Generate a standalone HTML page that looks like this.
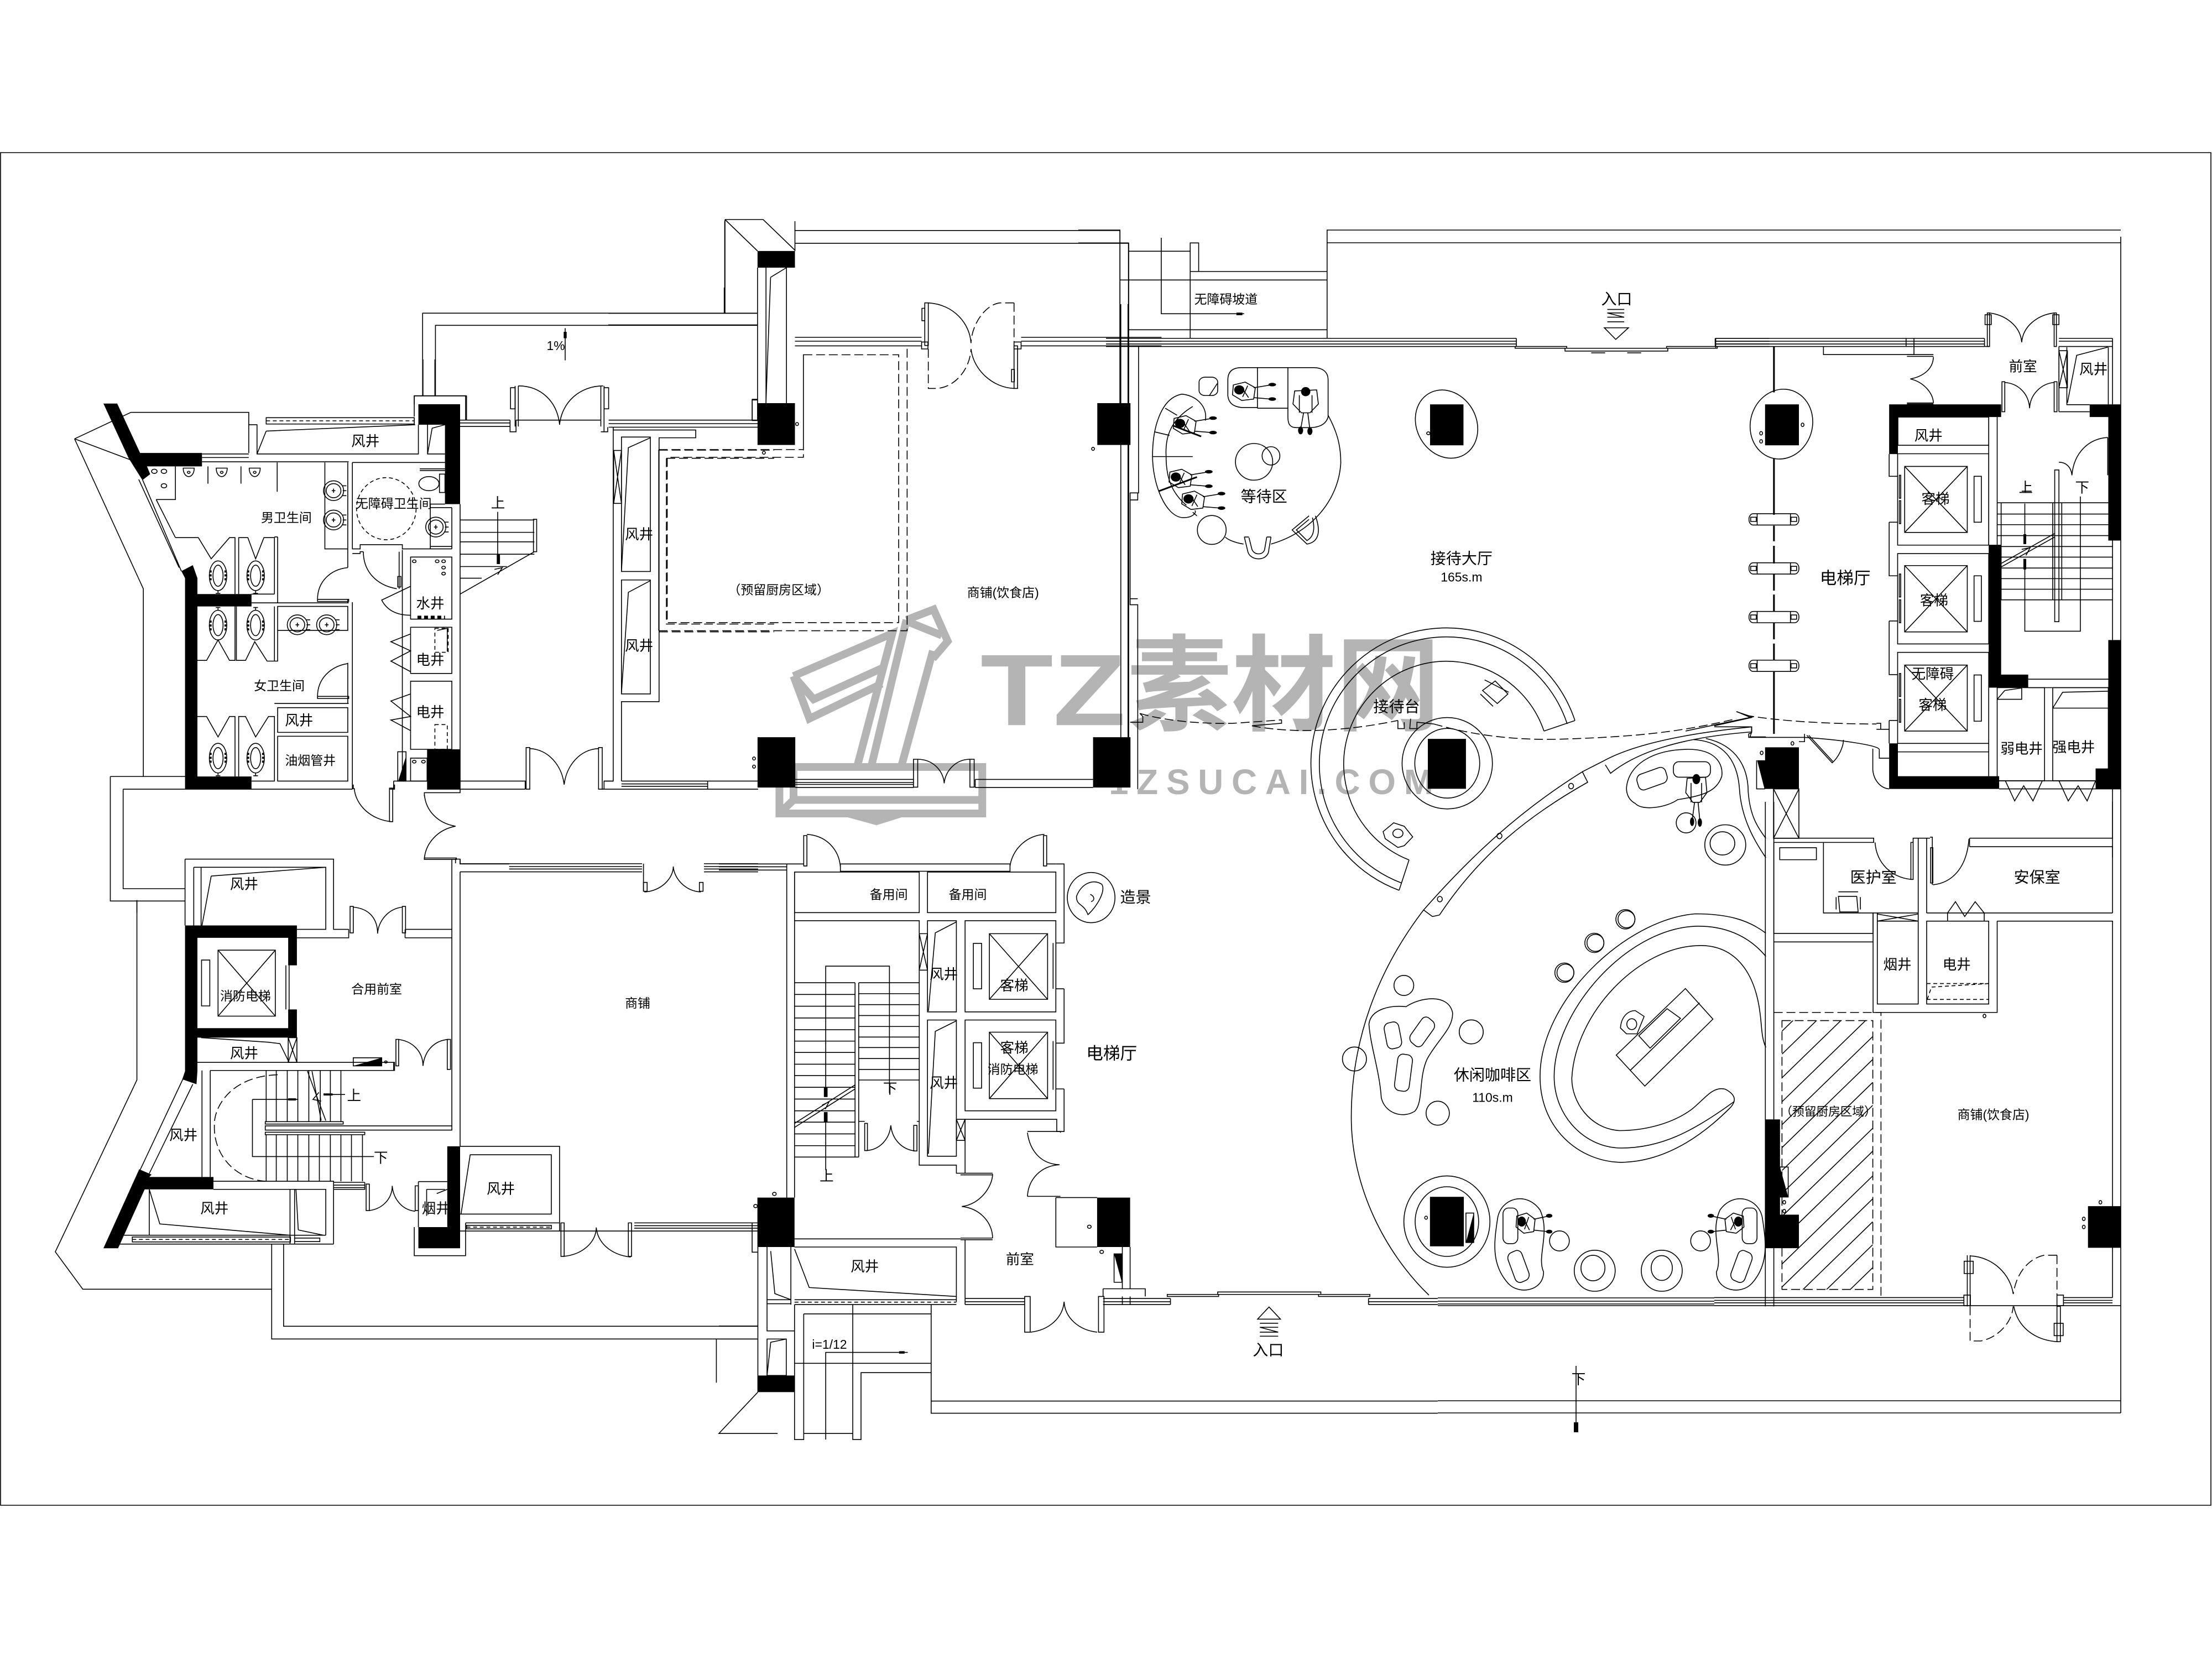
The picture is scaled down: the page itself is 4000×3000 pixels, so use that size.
<!DOCTYPE html>
<html><head><meta charset="utf-8"><style>
html,body{margin:0;padding:0;background:#fff}
svg{display:block}
path,rect,ellipse,circle,line{vector-effect:non-scaling-stroke;fill:none;stroke:#000;stroke-width:1.6}
.f{fill:#000!important;stroke:none!important}
.d{stroke-dasharray:16 7}
.e{stroke-dasharray:7 5}
.w{stroke:#b4b4b4!important;stroke-width:14!important}
text{font-family:"Liberation Sans","Noto Sans CJK SC",sans-serif;fill:#000;text-anchor:middle;dominant-baseline:central}
.wt{fill:#b4b4b4;font-weight:bold;text-anchor:start;dominant-baseline:auto}
</style></head><body>
<svg xmlns="http://www.w3.org/2000/svg" width="4000" height="3000" viewBox="0 0 4000 3000">
<defs>
<g id="sq"><ellipse rx="19" ry="42"/><ellipse rx="11" ry="30"/><path class="f" d="M-19 -15H-14V-9H-19ZM-19 -4H-14V2H-19ZM-19 7H-14V13H-19ZM14 -15H19V-9H14ZM14 -4H19V2H14ZM14 7H19V13H14Z"/><path d="M0 42V50M-5 50H5"/></g>
<g id="ur"><path d="M-12 -12H12C12 5 5 12 0 12C-5 12 -12 5 -12 -12Z"/><circle r="3"/></g>
<g id="bs"><ellipse rx="22" ry="28"/><ellipse rx="16" ry="20"/><path d="M0 -6V6M-4 0H4M20 -14H28M20 0H28M20 14H28"/></g>
<g id="pill"><rect x="123" y="-16" width="177" height="32" rx="15"/><rect x="129" y="-6" width="20" height="12"/><rect x="272" y="-6" width="20" height="12"/><path d="M152 -16V16M270 -16V16"/></g>
<g id="p"><ellipse class="f" rx="12" ry="13"/><path d="M-14 -14L14 -22L38 -6L34 26L6 30L-16 14Z M4 -10L22 22M20 -12L8 20M34 -6L75 -14M34 22L75 26M75 -14"/><ellipse class="f" cx="78" cy="-15" rx="9" ry="5"/><ellipse class="f" cx="78" cy="26" rx="9" ry="5"/></g>
<g id="p2"><ellipse class="f" rx="11" ry="13"/><path d="M-26 -2L26 -5L30 35L10 60L-10 60L-30 35Z M-15 10V60M15 10V60M-5 60L-12 108M5 60L10 108"/><ellipse class="f" cx="-12" cy="110" rx="6" ry="11"/><ellipse class="f" cx="10" cy="112" rx="6" ry="11"/></g>
<clipPath id="hc"><rect x="240" y="620" width="322" height="762"/></clipPath>
</defs>

<rect x="0" y="0" width="4000" height="3000" class="f" style="fill:#fff!important"/>

<!-- watermark -->
<g transform="translate(1100,400) scale(.638,.7)">
<path class="w" d="M525 1175L805 1065L705 1410M845 1030L745 1410M920 1110L830 1410M845 1030L922 1003L962 1085L920 1130M850 1035L945 1070M525 1175L570 1285L775 1195M525 1175L582 1235L775 1155M485 1410H1060V1530H485ZM525 1410V1495M525 1495H1060M485 1530L525 1495M680 1530L760 1550L830 1530"/>
</g>
<text class="wt" transform="scale(2.551)" x="695" y="514" font-size="72" textLength="103" lengthAdjust="spacingAndGlyphs">TZ</text>
<text class="wt" transform="scale(2.551)" x="799" y="512" font-size="74" style='font-family:"Noto Sans CJK SC",sans-serif'>素材网</text>
<text class="wt" transform="scale(2.551)" x="786" y="563" font-size="25" textLength="230">1ZSUCAI.COM</text>

<!-- frame -->
<rect x="1" y="276" width="3997" height="2446"/>

<!-- real-coordinate lines -->
<path d="M1311 397V567M1311 397H1380L1437 452M1311 397L1370 454"/>
<path d="M3835 428V2555M2399 416H3835M2399 439H3835"/>
<path d="M2600 2533H3835M2600 2555H3835M2600 2347H3100M2600 2353H3100M2600 2358H3100M2600 2361H3100"/>
<path d="M2850 2470V2590"/><path class="f" d="M2846 2572H2854V2590H2846Z"/>

<!-- reception arcs -->
<path d="M2848 1303A245 245 0 1 0 2530 1610M2834 1309A230 230 0 1 0 2535 1597M2792 1322A186 186 0 1 0 2548 1555M2848 1303L2792 1322M2530 1610L2548 1555"/>

<!-- Z11 ramp -->
<g transform="translate(1950,380) scale(.638,.3333)">
<path d="M0 108H118V693M0 178H142V693M142 223H317M317 178H341V333H317ZM317 333H705M119 379H705M705 108V693M142 649H705M317 178V693M235 150V562H470"/>
<path class="f" d="M448 556H465V570H448Z"/>
</g>

<!-- Z12 slope -->
<g transform="translate(700,520) scale(.446,.3333)">
<path d="M144 588V139H1502M196 588V205H1502M1367 0V139M110 700V588H322V720M722 220V395"/>
<path class="f" d="M716 240H728V275H716Z"/>
</g>

<!-- Z1 toilets -->
<g transform="translate(100,650) scale(.829,.638)">
<path class="f" d="M105 125H135L185 265H320V303H200L207 325L190 342L160 280Z"/>
<path class="f" d="M792 127H883V410H850V185H792Z"/>
<path class="f" d="M275 600L300 583L310 620V665H428V700H310V1182H428V1218H283V620Z"/>
<path class="f" d="M811 1105H883V1218H811Z"/>
<path d="M42 225L165 150H422V265M42 225L165 285M42 225L192 650V1182"/>
<path d="M422 185H440V268H792V185M460 203L785 185M460 203L440 268"/>
<rect x="460" y="165" width="323" height="18"/><path class="e" d="M460 174H783"/>
<path d="M812 185V268H850M812 268L822 195L850 185"/>
<path d="M783 127V103H895V172M802 0V103M828 0V103"/>
<path d="M883 172H992M883 180H992M883 190H992M992 172V205H1005V172"/>
<path d="M1003 75V190M1010 75V190M1010 75C1060 75 1095 120 1100 185M1195 75C1145 75 1105 120 1100 185M1190 75V190M1197 75V205M1005 172H1190"/>
<rect x="993" y="80" width="10" height="60"/><rect x="1197" y="80" width="10" height="60"/>
<path d="M1207 172H1533M1207 182H1533M1207 192H1533M1190 205H1205V192M1520 172V115H1533"/>
<path d="M883 455H1045M883 490H1045M883 517H1045M883 552H1045M883 587H985M883 620H930M883 665L1045 545M965 432V552M958 595L975 590L965 610"/>
<rect x="1043" y="453" width="7" height="92"/><path class="f" d="M963 552H970V580H963Z"/>
<path d="M883 1195H1025V1218M883 1218H1025M1035 1103C1075 1105 1105 1150 1110 1205M1185 1103C1145 1105 1115 1150 1110 1205M1192 1218H1533M1197 1195H1217M1235 1195H1533M1235 1203H1423M1235 1210H1423M1423 1195V1218"/>
<rect x="1027" y="1100" width="8" height="118"/><rect x="1185" y="1100" width="8" height="118"/>
<path d="M1217 192V1195H1197V1218M1235 1195V970H1317V222H1397V200H1217"/>
<rect x="1235" y="220" width="63" height="381"/><path d="M1235 600L1250 250L1298 222"/>
<rect x="1218" y="258" width="17" height="150"/><path d="M1218 258L1235 408M1235 258L1218 408"/>
<rect x="1235" y="625" width="63" height="323"/><path d="M1235 945L1250 660L1298 627"/>
<path class="d" d="M1317 257H1568M1333 280H1568M1333 280V750H1568M1317 772H1568"/>
<!-- toilet block -->
<path d="M320 268H422M320 278H422M320 290H640M648 292H850M588 292V537H638V292"/>
<use href="#bs" transform="translate(607,372)"/><use href="#bs" transform="translate(607,455)"/><use href="#bs" transform="translate(830,475)"/>
<use href="#bs" transform="translate(528,752)"/><use href="#bs" transform="translate(592,752)"/>
<use href="#ur" transform="translate(291,320)"/><use href="#ur" transform="translate(363,320)"/><use href="#ur" transform="translate(435,320)"/>
<circle cx="216" cy="317" r="6"/><circle cx="237" cy="317" r="6"/><circle cx="237" cy="358" r="6"/>
<path d="M333 303V352M405 303V352M484 292V375M190 340L275 600M182 340L270 590M220 397H262V303M220 397L262 505"/>
<path d="M262 505H312L340 565L380 505H392V665M400 665V505H420L437 565L455 505H478V665M485 503V690H428M478 503H485M428 665H478M428 690H640"/>
<path d="M485 700H638V768H485ZM485 700V855H462L435 800L415 853H395V700M392 700V853H380L355 795L330 853H310M478 700V855"/>
<path d="M310 1012H330L355 1070L380 1012H392V1182M400 1182V1012H415L437 1070L465 1012H478V1195H428M478 975H640"/>
<rect x="485" y="987" width="153" height="70"/><rect x="485" y="1068" width="153" height="127"/>
<use href="#sq" transform="translate(355,613)"/><use href="#sq" transform="translate(437,613)"/>
<use href="#sq" transform="translate(355,753) scale(1,-1)"/><use href="#sq" transform="translate(437,753) scale(1,-1)"/>
<use href="#sq" transform="translate(355,1130)"/><use href="#sq" transform="translate(437,1130)"/>
<path d="M648 292V537H665V525H757V537H865M638 537V590M638 590C600 595 572 630 572 680M638 680V690M648 550H665V545H672M672 545C672 600 700 640 745 650M750 545V650"/>
<rect x="572" y="680" width="68" height="6"/><rect x="747" y="615" width="7" height="30"/>
<ellipse class="e" cx="722" cy="423" rx="65" ry="88"/>
<ellipse cx="815" cy="352" rx="22" ry="20"/><rect x="838" y="325" width="12" height="52"/><path d="M795 310H850M795 315H850M818 410V537M818 420H865M818 530H865M865 420V537M883 410V1218M850 410H818"/>
<rect x="775" y="560" width="90" height="176"/>
<circle cx="783" cy="572" r="4"/><circle cx="833" cy="572" r="4"/><circle cx="847" cy="572" r="4"/><circle cx="847" cy="590" r="4"/><circle cx="847" cy="607" r="4"/>
<path d="M790 731H850" class="e" style="stroke-width:6"/>
<path d="M775 643L712 682C725 715 750 725 775 725M757 540V1195"/>
<rect x="775" y="759" width="90" height="131"/><rect class="e" x="828" y="762" width="29" height="68"/><path d="M833 768L855 762V828M775 778L732 800L775 826L732 855L775 885"/>
<rect x="775" y="912" width="90" height="193"/><rect class="e" x="828" y="1035" width="27" height="70"/><path d="M775 948L732 968L775 1012L732 1022L775 1052"/>
<rect x="775" y="1130" width="36" height="65"/><circle cx="783" cy="1140" r="4"/><circle cx="803" cy="1140" r="4"/>
<rect x="747" y="1112" width="18" height="83"/><path class="f" d="M765 1125L748 1195H765Z"/>
<path d="M738 1195H811M738 1195V1218M730 1218H740V1205M883 1218H811M652 1215C655 1265 690 1305 733 1310M648 1218H283M650 1205V1218"/>
<rect x="729" y="1215" width="7" height="95"/>
<path d="M648 688V1218M638 860V975M638 862C600 870 572 905 572 955"/><rect x="572" y="955" width="68" height="6"/>
<path d="M120 1182H283M120 1182V1535H283M148 1218H283M148 1218V1500H283M178 1535V1568"/>
<path d="M883 1218V1228H805V1238M805 1232C808 1280 835 1315 873 1323C835 1332 808 1370 805 1415M873 1415V1428M883 1418V1430H990"/>
<rect x="805" y="1413" width="70" height="4"/>
</g>

<!-- Z2 lower-left -->
<g transform="translate(100,1500) scale(.829,.638)">
<path class="f" d="M283 272H527V385H508V307H310V563H508V510H527V590H310V685L308 722L277 708L283 685Z"/>
<path class="f" d="M183 963L210 978L205 985H345V1020H195L137 1187H105Z"/>
<path class="f" d="M855 898H883V1187H792V1127H855Z"/>
<path d="M178 200V710L0 1197L60 1303H472M472 1175V1444H1533M498 1175V1408H1533M1442 1444V1568"/>
<path d="M283 84H607V283H640M283 84V272M302 107H590V283H527M302 107V272M318 107V272M340 132L590 107M340 132L320 272"/>
<path d="M527 307H640V283M650 220C690 225 703 260 703 295C705 260 725 225 757 220M763 283H865M763 307H865M763 283V307"/>
<rect x="643" y="218" width="7" height="75"/><rect x="757" y="218" width="7" height="75"/>
<path d="M865 84V840M883 120V898M873 84H883V97H990M883 120H1280M990 97H1280M990 105H1280M990 112H1280M1283 97V175M1285 177C1320 175 1348 140 1348 105C1350 140 1375 175 1408 177M1415 97H1533M1415 105H1533M1415 112H1533M1415 120H1533"/>
<rect x="1283" y="150" width="8" height="25"/><rect x="1405" y="150" width="8" height="25"/>
<rect x="355" y="342" width="125" height="187"/><path d="M355 342L480 529M480 342L355 529"/><rect x="319" y="370" width="18" height="130"/>
<path d="M503 385V510M510 385V510M318 590L465 603L490 607L510 660"/>
<rect x="508" y="590" width="19" height="70"/><path d="M508 590L527 660M527 590L508 660"/>
<path d="M310 660H740V683H338M650 647H712V670H650Z"/><path class="f" d="M712 647V670H650Z"/><circle cx="721" cy="659" r="3"/>
<rect x="743" y="595" width="6" height="75"/><path d="M748 595C780 600 802 630 802 670C805 630 825 598 858 595"/><rect x="855" y="595" width="7" height="85"/>
<path d="M738 683V660M338 683V985M320 683V985"/>
<path d="M460 683V828M482 683V828M506 683V828M529 683V828M553 683V828M578 683V828M600 683V828M623 683V828"/>
<path d="M460 865V997M482 865V997M506 865V997M529 865V997M553 865V997M576 865V997M600 865V997M623 865V997M646 865V997M670 865V997"/>
<rect x="458" y="828" width="170" height="7"/><rect x="458" y="840" width="407" height="12"/><rect x="458" y="858" width="217" height="7"/>
<path d="M550 685L590 825M560 685L580 825M575 745L562 765L580 770M632 751H585M430 765H530M430 765V927H695"/>
<path class="f" d="M585 748H605V754H585ZM508 762H525V768H508Z"/>
<path class="d" d="M485 695C380 700 345 790 347 840C345 920 390 990 458 997"/>
<path d="M345 997H607V1175M345 1020H590V1150M512 1020V1175M522 1020V1175M530 1135L525 1020M530 1135L585 1150M205 1020V1150M205 1020L228 1118L512 1150M140 1150H590M140 1175H607"/>
<rect x="168" y="1155" width="345" height="14"/><path class="e" d="M168 1162H513"/><rect x="522" y="1158" width="55" height="10"/>
<path d="M607 1000H675M607 1008H675M607 1015H675M607 1020H675V1000"/>
<rect x="678" y="1005" width="7" height="75"/><path d="M685 1080C715 1075 735 1045 735 1010C737 1045 755 1078 785 1082"/><rect x="785" y="1010" width="7" height="70"/>
<path d="M792 998H855M792 998V1127M810 1020V1095M810 1020H850M832 1032L855 1020"/>
<path d="M783 1127V1208H895V1115M895 1115H1100M883 1090H1082V922H905L885 1090M883 898H1100V1138M883 1138H1533"/>
<rect x="897" y="1122" width="185" height="10"/><path class="e" d="M897 1127H1082"/>
<rect x="1103" y="1115" width="7" height="95"/><path d="M1108 1210C1150 1205 1180 1170 1180 1128C1183 1170 1210 1205 1255 1212"/><rect x="1250" y="1115" width="7" height="95"/>
<path d="M1263 1115H1533M1263 1123H1533M1263 1130H1533M1520 1115V1198H1533"/>
<path d="M281 700L185 965M300 722L205 975"/>
</g>

<!-- Z3 centre-lower -->
<g transform="translate(1300,1500) scale(.829,.733)">
<path class="f" d="M84 908H165V1030H84ZM825 908H897V1030H825ZM84 1347H165V1388H84Z"/>
<path d="M0 85H148M0 92H148M0 100H148M148 85V908M165 105V908"/>
<rect x="165" y="105" width="272" height="100"/><rect x="455" y="105" width="280" height="100"/>
<path d="M165 225H437V828H518V848H527M455 225H518V450H455ZM457 448L472 255L518 228"/>
<rect x="455" y="470" width="63" height="336"/><path d="M457 800L472 498L518 472"/>
<rect x="437" y="257" width="18" height="90"/><path d="M437 257L455 347M455 257L437 347"/>
<rect x="537" y="225" width="198" height="225"/><rect x="537" y="470" width="198" height="224"/>
<rect x="590" y="257" width="127" height="162"/><path d="M590 257L717 419M717 257L590 419"/><rect x="555" y="281" width="18" height="112"/>
<rect x="590" y="500" width="127" height="164"/><path d="M590 500L717 664M717 500L590 664"/><rect x="555" y="526" width="18" height="112"/>
<path d="M735 85H753V280H735M753 393H735M753 393V527H735M753 640V745H737V715H537V770M753 640H735M729 280V393M735 280V393M729 522V642M735 522V642"/>
<rect x="518" y="715" width="19" height="52"/><path d="M518 715L537 767M537 715L518 767"/>
<path d="M537 767V848M148 85H185"/>
<rect x="185" y="15" width="7" height="75"/><path d="M192 12C235 15 262 50 265 92M710 12C670 15 640 50 635 90"/>
<rect x="265" y="85" width="370" height="18"/><rect x="708" y="15" width="7" height="75"/><path d="M715 85H735"/>
<path d="M165 378H297M165 407H297M165 436H297M165 465H297M165 494H297M165 522H297M165 550H297M165 579H297M165 607H297M165 636H297M165 665H297M165 694H297M165 722H297M165 751H297M165 780H297M165 808H305"/>
<path d="M305 378H437M305 405H437M305 432H437M305 459H437M305 486H437M305 512H437M305 538H437M305 565H437M305 592H437M305 618H437"/>
<path d="M297 378V808M305 378V808M233 650V337H372V650M233 700V840M165 725L297 630M165 735L297 640M225 680L240 672L232 690"/>
<path class="f" d="M229 635H237V660H229ZM229 697H237V722H229Z"/>
<rect x="318" y="725" width="6" height="67"/><path d="M322 792C350 790 372 765 375 730C378 765 400 790 428 793"/><rect x="425" y="730" width="7" height="63"/>
<path d="M305 720H318M432 720H437"/>
<path d="M527 848H597M527 852H597M597 850C597 880 570 925 530 930C570 935 597 970 597 1008M527 1008H597M527 1012H597M165 1010H527M165 1030H518V1165M537 1012V1172M165 1035L197 1130L518 1152M165 1160H518M165 1172H518"/>
<path class="e" d="M165 1166H518"/>
<path d="M85 1030V1347M105 1030V1172M113 1040L122 1145L157 1160M157 1030V1172M105 1160H157M105 1170H157"/>
<path d="M673 745H745V748M673 748C678 790 700 825 743 827C700 830 675 865 673 905M673 905H745M735 908V1030H825M735 908H825"/>
<circle cx="808" cy="980" r="4"/><circle cx="835" cy="1042" r="4"/><circle cx="121" cy="899" r="4"/><circle cx="80" cy="929" r="4"/>
<rect x="862" y="1047" width="17" height="70"/><path class="f" d="M862 1047H879V1117Z"/>
<path d="M880 1030V1133M897 1030V1133M838 1133H930V1152M838 1133V1152"/>
<path d="M537 1157H667M537 1165H667M537 1172H667M680 1240C720 1235 750 1205 753 1165C755 1205 785 1235 825 1240M838 1157H985M838 1165H985M838 1172H985M985 1157V1172M880 1152V1172M897 1152V1172"/>
<rect x="667" y="1152" width="12" height="88"/><rect x="828" y="1152" width="12" height="88"/>
<rect x="978" y="1147" width="112" height="5"/><rect x="1088" y="1141" width="225" height="6"/><rect x="1308" y="1147" width="112" height="5"/>
<path d="M1417 1157H1568M1417 1165H1568M1417 1172H1568M1417 1157V1172"/>
<path d="M1200 1178L1175 1208H1225ZM1180 1218H1220M1180 1228H1220M1180 1240H1220M1180 1250H1220M1180 1228L1220 1240"/>
<path d="M185 1195H463V1440H1568M463 1172V1440M463 1410H1568M185 1195V1505H165V1172M292 1172V1505H310V1340H463M165 1317H463M185 1490H292M233 1505V1290H412"/>
<path class="f" d="M393 1287H405V1293H393Z"/>
<path d="M105 1172V1237H165"/>
<rect x="105" y="1257" width="42" height="90"/><path d="M105 1347L113 1265L147 1257"/>
<path d="M85 1388L0 1490H128M0 1225H85M0 1257H85"/>
<ellipse cx="812" cy="168" rx="52" ry="62"/>
<path d="M780 165C790 135 815 120 835 135C845 150 825 190 805 210C795 180 780 190 780 165ZM810 160C820 165 820 175 812 178"/>
</g>

<!-- Z7 shop -->
<g transform="translate(1100,400) scale(.638,.7)">
<path class="f" d="M423 77H529V120H423ZM423 470H529V578H423ZM423 1333H530V1463H423ZM1386 470H1480V578H1386ZM1374 1333H1480V1463H1374Z"/>
<path d="M0 238H423M0 268H423M330 0V238M529 0V77M529 24H1450V470M529 57H1475V1333"/>
<path d="M423 120V470M447 120V470M505 120V470M460 145L505 120M460 145L447 465M408 460H423V515H408Z"/>
<path d="M529 300H888M529 310H888M529 322H888M907 211C980 215 1025 265 1028 315M1028 330C1035 385 1090 430 1150 432M1170 300H1568M1170 310H1568M1170 322H1568"/>
<path class="d" d="M1150 211H1110C1070 215 1030 265 1028 315M1150 211V312M907 330V432H930C980 430 1025 385 1028 330"/>
<rect x="897" y="211" width="10" height="110"/><rect x="1150" y="322" width="10" height="110"/>
<rect x="889" y="225" width="8" height="32"/><rect x="1143" y="383" width="8" height="32"/>
<rect x="888" y="312" width="18" height="18"/><rect x="1150" y="312" width="20" height="18"/>
<path class="d" d="M553 345H823V1037H167V610H553ZM143 590H553V345M143 1058H847V322"/>
<path d="M143 590V1058M530 1442H865M530 1450H865M530 1455H865M530 1463H865M877 1390C920 1390 950 1420 952 1452C955 1420 985 1390 1025 1390M1040 1442H1374M1040 1463H1374M1040 1442V1463"/>
<rect x="865" y="1390" width="12" height="72"/><rect x="1025" y="1390" width="12" height="72"/>
<circle cx="535" cy="524" r="4"/><circle cx="441" cy="598" r="4"/><circle cx="413" cy="1388" r="4"/><circle cx="413" cy="1409" r="4"/><circle cx="1374" cy="588" r="4"/>
</g>

<!-- Z4 lobby -->
<g transform="translate(2000,550) scale(.765,.638)">
<path class="f" d="M766 284H845V400H766Z"/>
<path d="M0 97H970M0 105H970M0 113H970M0 120H970M970 97V120M35 0V1232M52 0V1232"/>
<rect x="967" y="120" width="122" height="5"/><rect x="1085" y="125" width="243" height="8"/><rect x="1325" y="120" width="120" height="5"/>
<path d="M1440 97H1568M1440 105H1568M1440 113H1568M1440 120H1568M1440 97V120"/>
<path d="M1178 67H1235L1205 100ZM1185 15H1225M1185 25H1225M1185 37H1225M1185 50H1225M1185 25L1225 37M1147 138H1180M1232 138H1265"/>
<path d="M77 120V535H57V555H75V535M57 555V835M75 835H57V852H75V1185H57M75 855V1375M57 1185H87V1170"/>
<path d="M525 315C550 370 555 410 555 450C550 560 480 650 390 680M325 680C300 675 285 665 282 660M215 600L205 590M263 225L245 258"/>
<path d="M288 215C288 190 300 180 320 180H490C515 180 525 195 525 215V320C520 340 505 350 480 350H450C435 350 430 340 430 320V295H358M288 215V260C290 280 300 290 320 293H358M358 180V295M430 180V295"/>
<rect x="220" y="207" width="44" height="52" rx="14"/>
<path d="M180 255C215 260 240 290 235 330M180 255C130 265 110 350 110 430C110 510 140 600 180 605C205 607 215 590 210 585M205 290C150 330 140 380 142 430C142 480 150 530 190 570M140 295L168 315M115 362L150 372M110 432H205"/>
<path d="M125 530L215 490" style="stroke-width:3"/>
<path d="M160 345L225 375" style="stroke-width:3"/>
<ellipse cx="350" cy="447" rx="44" ry="52"/><ellipse cx="390" cy="430" rx="21" ry="26"/><ellipse cx="250" cy="640" rx="34" ry="41"/>
<path d="M327 660L335 700C340 730 385 730 385 695L390 660M338 662L345 695C350 712 372 712 375 695L380 660M327 660H338M380 660H390"/>
<path d="M480 600L440 640L475 680C500 675 510 650 495 600M480 610L450 640L475 670C490 660 495 640 488 605"/>
<use href="#p" transform="translate(315,243)"/><use href="#p" transform="translate(175,338)"/><use href="#p" transform="translate(165,490)"/><use href="#p" transform="translate(195,552)"/>
<use href="#p2" transform="translate(472,248)"/>
<ellipse cx="805" cy="340" rx="72" ry="98" transform="rotate(-14 805 340)"/><circle cx="762" cy="366" r="4"/>
<path d="M890 1095L920 1068L950 1105L925 1132ZM885 1105L915 1140M895 1065L952 1100"/>
<path class="d" d="M80 1160C150 1185 250 1190 300 1188C340 1185 400 1180 415 1178M345 1195C430 1215 550 1215 690 1180M775 1190C850 1215 950 1240 1100 1232C1250 1225 1350 1215 1490 1175"/>
<path d="M80 1160L88 1170M415 1178V1188L345 1195M690 1180L690 1203H705V1185M720 1175L718 1203H735V1185L775 1190M1490 1155L1528 1170L1370 1210"/>
<path d="M655 1495L680 1470L705 1480L725 1510L705 1535L690 1540L660 1515Z"/><ellipse cx="690" cy="1500" rx="12" ry="12"/>
</g>

<!-- Z5 cafe -->
<g transform="translate(2300,1250) scale(.638,.7)">
<path class="f" d="M442 123H550V252H442ZM448 1306H544V1434H448Z"/>
<ellipse cx="497" cy="186" rx="128" ry="118"/><ellipse cx="497" cy="186" rx="92" ry="90"/>
<path d="M940 180C1020 140 1160 110 1360 92V105C1150 120 1030 160 960 212L945 190M1360 105L1355 118H1400M880 208L940 180"/>
<path d="M880 208C700 310 560 430 430 565L455 582L475 578C590 420 730 320 895 235L880 208ZM430 565C300 720 225 900 225 1100C225 1280 320 1450 445 1560"/>
<circle cx="848" cy="245" r="7"/><circle cx="645" cy="374" r="7"/><circle cx="476" cy="537" r="7"/>
<path d="M1195 125C1290 130 1320 190 1325 250C1330 330 1370 390 1400 430M1230 122C1320 140 1350 200 1350 260C1355 320 1375 350 1400 380"/>
<path d="M1400 625C1350 590 1290 575 1200 575C1000 590 760 800 760 995C760 1130 870 1215 990 1217C1130 1215 1240 1130 1300 1075C1320 1055 1310 1040 1285 1028C1250 1020 1230 1050 1190 1080C1130 1120 1050 1135 985 1135C900 1130 850 1060 850 1000C860 830 1040 660 1210 657C1300 655 1360 710 1380 810C1390 860 1385 890 1400 920"/>
<path d="M1400 685C1350 630 1280 605 1200 607C1000 615 800 830 800 995C800 1100 890 1180 990 1180C1100 1180 1190 1140 1310 1060"/>
<path d="M976 940L1172 768L1250 847L1057 1020ZM1015 980L1212 805M1040 890L1120 820L1158 845L1072 922Z"/>
<path d="M988 870C990 840 1010 825 1030 825L1055 840L1035 885L1005 885Z"/><ellipse cx="1020" cy="860" rx="14" ry="14"/>
<ellipse cx="829" cy="727" rx="27" ry="25"/><ellipse cx="914" cy="650" rx="27" ry="25"/><ellipse cx="1002" cy="589" rx="27" ry="25"/>
<ellipse cx="832" cy="727" rx="24" ry="22"/><ellipse cx="917" cy="650" rx="24" ry="22"/><ellipse cx="1005" cy="589" rx="24" ry="22"/>
<path d="M275 860C280 820 340 810 380 815C420 790 500 780 512 830C515 870 470 900 440 950C415 1000 430 1060 405 1085C370 1105 320 1090 310 1050C305 980 280 920 275 860Z"/>
<rect x="322" y="855" width="42" height="68" rx="15" transform="rotate(-12 343 889)"/>
<rect x="405" y="840" width="42" height="80" rx="15" transform="rotate(38 426 880)"/>
<rect x="352" y="938" width="42" height="95" rx="15" transform="rotate(8 373 985)"/>
<ellipse cx="374" cy="760" rx="28" ry="26"/><ellipse cx="565" cy="880" rx="34" ry="31"/><ellipse cx="470" cy="1090" rx="33" ry="31"/><ellipse cx="234" cy="950" rx="34" ry="31"/>
<ellipse cx="496" cy="1370" rx="122" ry="118"/><ellipse cx="496" cy="1370" rx="90" ry="90"/><circle cx="437" cy="1360" r="4"/>
<rect x="550" y="1348" width="22" height="76"/><path class="f" d="M572 1348V1424H550Z"/>
<g id="set"><path d="M640 1360C650 1310 720 1290 760 1340C790 1400 750 1460 770 1500C770 1550 700 1560 670 1530C620 1480 630 1420 640 1360Z"/>
<rect x="655" y="1335" width="42" height="92" rx="15"/>
<rect x="678" y="1445" width="42" height="82" rx="15" transform="rotate(-22 699 1486)"/>
<use href="#p" transform="translate(708,1370)"/>
<ellipse cx="815" cy="1420" rx="28" ry="26"/></g>
<use href="#set" transform="translate(2030,0) scale(-1,1)"/>
<ellipse cx="915" cy="1497" rx="58" ry="53"/><ellipse cx="910" cy="1490" rx="34" ry="33"/>
<ellipse cx="1105" cy="1497" rx="58" ry="53"/><ellipse cx="1105" cy="1490" rx="30" ry="32"/>
<path d="M1005 250C1010 190 1080 150 1180 150C1260 150 1280 190 1275 220C1260 260 1220 270 1150 280C1120 300 1050 310 1030 290C1010 280 1005 265 1005 250Z"/>
<rect x="1035" y="205" width="85" height="42" rx="15" transform="rotate(-18 1077 226)"/>
<rect x="1138" y="182" width="105" height="40" rx="15"/>
<use href="#p2" transform="translate(1203,227)"/>
<ellipse cx="1174" cy="340" rx="28" ry="26"/><ellipse cx="1285" cy="397" rx="58" ry="52"/><ellipse cx="1277" cy="393" rx="35" ry="30"/>
</g>

<!-- Z6 elevator hall -->
<g transform="translate(3100,550) scale(.51,.638)">
<path class="f" d="M620 284H1017V320H651V425H620ZM1331 284H1442V670H1397V320H1331ZM973 682H1017V1050H1113V1087H973ZM1397 952H1442V1374H1352V1316H1397ZM620 1245H651V1338H1010V1374H620ZM180 284H300V400H180ZM180 1256H300V1374H178L152 1293H180Z"/>
<path d="M5 97H958M5 105H958M5 113H958M5 120H958M5 97V125M680 97V120M708 97V143H387V120M958 97V120H975M975 25C1030 30 1085 60 1090 108M1205 25C1150 30 1095 60 1090 108"/>
<rect x="968" y="25" width="8" height="95"/><rect x="960" y="30" width="22" height="28"/><rect x="1205" y="25" width="8" height="95"/><rect x="1200" y="30" width="22" height="28"/>
<path d="M1222 97H1412M1222 105H1412M1222 120H1412M1412 97V284"/>
<rect x="1020" y="220" width="10" height="85"/><path d="M1030 222C1080 225 1115 255 1118 295C1120 255 1160 225 1205 222"/><rect x="1205" y="220" width="10" height="85"/>
<path d="M1222 305H1331M1222 120V305M1250 122V285H1331M1252 280L1285 145L1395 122M1397 122V284"/>
<rect x="1222" y="132" width="30" height="105"/><path d="M1222 132L1252 237M1252 132L1222 237"/>
<path d="M683 148H777M683 143H777M777 150C775 185 740 205 695 212C740 220 775 250 777 280M683 280H777M683 283H777"/>
<path d="M210 120V250M213 120V250M210 438V597M213 438V597M210 628V672M213 628V672M210 685V735M213 685V735M210 765V812M213 765V812M210 823V872M213 823V872M210 903V950M213 903V950M210 962V1010M213 962V1010M210 1042V1218M213 1042V1218"/>
<ellipse cx="238" cy="340" rx="112" ry="98" transform="rotate(-15 238 340)"/>
<circle cx="166" cy="366" r="5"/><circle cx="166" cy="389" r="5"/><circle cx="313" cy="342" r="5"/>
<use href="#pill" transform="translate(0,610)"/><use href="#pill" transform="translate(0,749)"/><use href="#pill" transform="translate(0,887)"/><use href="#pill" transform="translate(0,1025)"/>
<rect x="650" y="424" width="323" height="259"/><rect x="650" y="707" width="323" height="256"/><rect x="650" y="987" width="323" height="258"/>
<rect x="675" y="460" width="222" height="187"/><path d="M675 460L897 647M897 460L675 647"/>
<rect x="675" y="741" width="222" height="188"/><path d="M675 741L897 929M897 741L675 929"/>
<rect x="675" y="1023" width="222" height="187"/><path d="M675 1023L897 1210M897 1023L675 1210"/>
<rect x="921" y="488" width="26" height="130"/><rect x="921" y="770" width="26" height="129"/><rect x="921" y="1051" width="26" height="131"/>
<rect x="656" y="485" width="5" height="65"/><rect x="656" y="557" width="5" height="65"/><rect x="656" y="765" width="5" height="65"/><rect x="656" y="838" width="5" height="65"/><rect x="656" y="1047" width="5" height="65"/><rect x="656" y="1120" width="5" height="65"/>
<path d="M620 425V488H650M620 618H650M620 618V770H650M620 898H650M620 898V1050H650M620 1180H650M620 1180V1245"/>
<rect x="651" y="320" width="322" height="80"/><path d="M1003 320V1087M973 320V682M973 1269H651M973 1245V1338"/>
<path d="M1003 563H1397M1003 595H1397M1003 625H1397M1003 656H1397M1003 687H1412M1017 717H1412M1017 748H1412M1017 778H1412M1017 808H1412M1017 838H1412M1017 563V838M1200 563V838M1232 563V838M1412 670V952M1412 1374V1568"/>
<rect x="1207" y="470" width="15" height="430"/>
<path d="M1101 565V670M1101 725V927H1298V545M1017 735L1207 650M1017 745L1207 660M1090 695L1120 690L1105 712"/>
<path class="f" d="M1096 652H1106V680H1096ZM1096 722H1106V752H1096Z"/>
<path d="M1395 378C1330 380 1275 420 1268 485C1265 460 1245 448 1222 448M1395 378V485M1090 530H1125"/>
<path d="M1113 1063H1397M1113 1087H1397"/>
<rect x="1003" y="1087" width="168" height="264"/><rect x="1200" y="1087" width="197" height="264"/>
<path d="M1003 1120L1030 1095L1090 1088V1120H1003M1200 1145L1235 1100L1397 1097M1200 1145H1397"/>
<path d="M1032 1351L1065 1408L1097 1365L1130 1408L1163 1351M1222 1351L1255 1408L1290 1365L1322 1408L1352 1351M1010 1351H1397M1010 1374H1442"/>
<path class="d" d="M110 1165C250 1185 450 1190 575 1190"/>
<path d="M575 1205H620M575 1188H590V1205M80 1155L130 1172L0 1195M0 1198H132V1215L122 1218V1228H320C450 1235 580 1250 585 1262V1287H620M320 1218V1240H300M562 1260V1320C565 1350 590 1372 620 1374M328 1222L418 1300C440 1285 458 1255 458 1235M335 1222L420 1296"/>
<rect x="210" y="1374" width="90" height="140"/><path d="M210 1374L300 1514M300 1374L210 1514"/>
<path d="M150 1293V1374H180"/>
<circle cx="168" cy="1272" r="5"/><circle cx="277" cy="1245" r="5"/>
</g>

<!-- Z9 lower-right -->
<g transform="translate(3100,1450) scale(.51,.638)">
<g clip-path="url(#hc)"><path d="M240 650L562 400M240 715L562 465M240 782L562 532M240 850L562 600M240 915L562 665M240 980L562 730M240 1045L562 795M240 1110L562 860M240 1175L562 925M240 1240L562 990M240 1310L562 1060M240 1375L562 1125M240 1440L562 1190M240 1505L562 1255M240 1570L562 1320M240 1635L562 1385"/></g>
<path class="d" d="M240 620H562V1382H240ZM211 597H591V1405"/>
<path d="M181 0V1430M211 0V900M211 1265V1430M1412 0V103"/>
<path d="M211 103H565V115H211M211 115V373H563V315H387V115"/>
<rect x="232" y="130" width="130" height="34"/>
<path d="M211 397H563V597M563 315H723M563 315V597H1003V338M723 103V573H578V315M578 338H723M578 318L723 338M723 318L578 338"/>
<path d="M753 103V315M753 338H973V573H753ZM1003 338H1412V1405M753 315H1412M905 103H1412M905 127H1412V315M905 103V127"/>
<path class="e" d="M753 515H973M753 560H973M755 560L770 525L973 515"/>
<path d="M570 115C575 175 630 215 700 220M705 115V103H765M775 235C840 230 895 190 903 105"/>
<rect x="697" y="115" width="8" height="105"/><rect x="767" y="130" width="8" height="100"/><path d="M765 100H773V235"/>
<path d="M827 315V338M957 315V338M827 315L855 283L888 325L925 283L957 315"/>
<path d="M440 268H505L510 312H445ZM432 270V305M518 270V305M440 255H510"/>
<path d="M0 1405H885M0 1413H885M0 1420H885M0 1428H1442M1238 1405H1412M1238 1413H1412M1238 1420H1412"/>
<path d="M897 1285V1430M907 1285V1430M907 1287C990 1290 1050 1340 1060 1395M1062 1430C1075 1485 1130 1525 1215 1530"/>
<rect x="885" y="1398" width="23" height="30"/><rect x="886" y="1302" width="32" height="35"/><rect x="1215" y="1398" width="23" height="30"/><rect x="1215" y="1430" width="12" height="100"/><rect x="1205" y="1478" width="32" height="35"/>
<path class="d" d="M907 1430V1528H945C1000 1520 1055 1480 1060 1430M1215 1285H1170C1110 1295 1070 1340 1060 1395M1215 1285V1398"/>
<path class="f" d="M180 900H233V1035L262 1120H233V1170H300V1265H180ZM1325 1146H1442V1264H1325Z"/>
<rect x="233" y="1035" width="29" height="85"/>
<circle cx="1369" cy="1135" r="5"/><circle cx="1310" cy="1182" r="5"/><circle cx="1310" cy="1205" r="5"/><circle cx="958" cy="607" r="5"/><circle cx="248" cy="1135" r="5"/><circle cx="248" cy="1160" r="5"/>
</g>

<!-- labels (main-image units) -->
<g transform="scale(2.551)">
<g font-size="10">
<text x="259" y="313">风井</text><text x="305" y="428">水井</text><text x="305" y="468">电井</text><text x="305" y="505">电井</text><text x="212" y="511">风井</text>
<text x="453" y="379">风井</text><text x="453" y="458">风井</text><text x="1484" y="262">风井</text><text x="1367" y="309">风井</text>
<text x="1372" y="354">客梯</text><text x="1371" y="426">客梯</text><text x="1370" y="478">无障碍</text><text x="1370" y="500">客梯</text>
<text x="1436" y="346">上</text><text x="1476" y="346">下</text><text x="1433" y="531">弱电井</text><text x="1470" y="530">强电井</text>
<text x="1345" y="684">烟井</text><text x="1387" y="684">电井</text>
<text x="353" y="357">上</text><text x="173" y="627">风井</text><text x="669" y="691">风井</text><text x="669" y="768">风井</text><text x="719" y="699">客梯</text><text x="719" y="743">客梯</text>
<text x="251" y="777">上</text><text x="270" y="821">下</text><text x="173" y="747">风井</text><text x="130" y="805">风井</text><text x="152" y="857">风井</text><text x="309" y="857">烟井</text><text x="355" y="843">风井</text>
<text x="631" y="772">下</text><text x="586" y="834">上</text><text x="613" y="898">风井</text><text x="723" y="893">前室</text><text x="1434" y="260">前室</text><text x="1119" y="978">下</text>
</g>
<g font-size="9">
<text x="203" y="367">男卫生间</text><text x="279" y="357">无障碍卫生间</text><text x="198" y="486">女卫生间</text><text x="220" y="539">油烟管井</text>
<text x="552" y="418">（预留厨房区域）</text><text x="711" y="420">商铺(饮食店)</text><text x="869" y="212">无障碍坡道</text><text x="1036" y="409">165s.m</text>
<text x="1058" y="778">110s.m</text><text x="1296" y="788" font-size="8.5">（预留厨房区域）</text><text x="1413" y="790">商铺(饮食店)</text>
<text x="174" y="706">消防电梯</text><text x="267" y="701">合用前室</text><text x="452" y="711">商铺</text><text x="630" y="634">备用间</text><text x="686" y="634">备用间</text><text x="718" y="758">消防电梯</text>
<text x="588" y="953">i=1/12</text><text x="394" y="245">1%</text>
</g>
<g font-size="11">
<text x="1146" y="212">入口</text><text x="1036" y="396">接待大厅</text><text x="896" y="352">等待区</text><text x="990" y="501">接待台</text>
<text x="1328" y="622">医护室</text><text x="1444" y="622">安保室</text><text x="1058" y="762">休闲咖啡区</text><text x="805" y="636">造景</text><text x="899" y="957">入口</text>
<text x="1308" y="410" font-size="12">电梯厅</text><text x="788" y="747" font-size="12">电梯厅</text>
</g>
</g>
</svg>
</body></html>
